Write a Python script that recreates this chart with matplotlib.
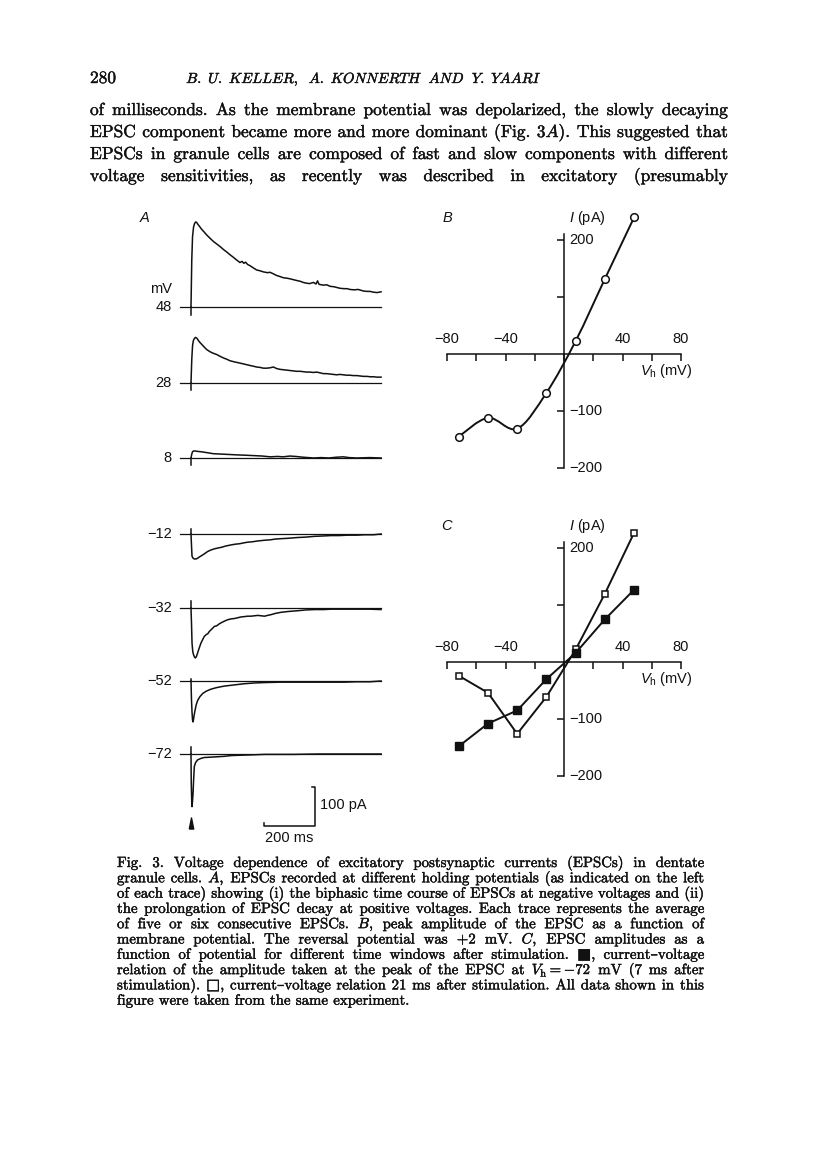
import numpy as np
import matplotlib
matplotlib.use('Agg')
import matplotlib.pyplot as plt
import matplotlib.patheffects as pe
from matplotlib.path import Path
from matplotlib.patches import PathPatch

W, H = 816, 1166

# ---- data ----
holding_mv = [48, 28, 8, -12, -32, -52, -72]
holding_labels = ['48', '28', '8', '\u221212', '\u221232', '\u221252', '\u221272']

# stimulus artefact (pA relative to baseline) for each trace
stim_artefact = [-21, -17, -18, 13, 17, 4, 17]

# EPSC traces, time (ms) and current (pA)
t_48 = [0, 3, 6, 10, 14, 18, 22, 27, 33, 42, 52, 61, 75, 88, 100, 114, 128, 140, 153, 165,
        178, 192, 200, 207, 214, 222, 231, 245, 257, 270, 284, 300, 310, 323, 335, 349, 362,
        375, 390, 402, 414, 428, 440, 453, 465, 480, 490, 496, 502, 520, 532, 545, 560, 572,
        584, 600, 612, 623, 640, 655, 676, 690, 702, 715, 730, 745]
i_48 = [0, 120, 180, 205, 214, 218, 217, 212, 207, 199, 192, 185, 176, 168, 162, 155, 147, 141,
        134, 128, 121, 114, 117, 112, 115, 109, 106, 100, 95, 93, 90, 88, 89, 85, 81, 78, 75,
        74, 72, 70, 68, 66, 63, 61, 60, 63, 59, 67, 58, 56, 57, 53, 52, 50, 48, 47, 47, 45,
        44, 45, 41, 40, 40, 38, 37, 39]

t_28 = [0, 3, 6, 9, 13, 18, 24, 30, 35, 45, 55, 61, 75, 88, 101, 115, 128, 140, 153, 165, 178,
        192, 205, 218, 231, 245, 257, 270, 284, 297, 310, 323, 336, 349, 362, 375, 388, 401,
        414, 428, 440, 453, 467, 480, 493, 506, 519, 532, 545, 558, 571, 584, 597, 610, 623,
        636, 650, 663, 676, 690, 702, 715, 730, 745]
i_28 = [0, 60, 95, 108, 114, 117, 114, 108, 104, 97, 90, 86, 80, 76, 73, 68, 64, 61, 57, 55, 53,
        51, 49, 47, 45, 43, 41, 40, 38, 38, 39, 41, 37, 35, 34, 33, 32, 31, 30, 30, 29, 28, 28,
        27, 28, 26, 24, 24, 23, 22, 21, 22, 21, 20, 20, 19, 19, 18, 17, 17, 16, 16, 15, 15]

t_8 = [0, 3, 6, 10, 16, 25, 40, 60, 88, 120, 150, 180, 218, 250, 280, 310, 340, 360, 388, 410,
       440, 480, 510, 540, 570, 597, 620, 650, 700, 745]
i_8 = [0, 10, 16, 18, 18, 17, 16, 14, 11, 10, 9, 8, 7, 6, 5, 3, 4, 3, 5, 4, 2, 0, 1, 0, 2, 3,
       1, 0, 1, 0]

t_m12 = [0, 2, 4, 8, 13, 20, 26, 35, 45, 52, 65, 78, 92, 105, 120, 135, 157, 175, 190, 205, 222,
         240, 260, 288, 310, 330, 353, 380, 418, 450, 484, 520, 549, 580, 614, 650, 680, 715, 745]
i_m12 = [0, -30, -57, -62, -64, -64, -62, -58, -54, -51, -45, -41, -38, -36, -34, -31, -28, -26,
         -25, -23, -21, -20, -18, -16, -15, -13, -12, -11, -9, -8, -6, -5, -4, -4, -3, -3, -2,
         -2, 0]

t_m32 = [0, 2, 4, 7, 10, 14, 17, 21, 26, 32, 39, 45, 52, 60, 66, 72, 80, 92, 100, 110, 118, 130,
         144, 157, 170, 183, 196, 210, 222, 235, 248, 262, 275, 288, 300, 314, 330, 353, 380, 418,
         450, 484, 520, 549, 600, 650, 700, 745]
i_m32 = [0, -40, -90, -112, -120, -126, -128, -125, -115, -103, -90, -82, -73, -68, -66, -60, -55,
         -47, -46, -41, -38, -34, -30, -28, -27, -25, -23, -22, -21, -21, -20, -19, -20, -21, -19,
         -17, -14, -11, -9, -7, -5, -4, -4, -3, -3, -3, -3, -4]

t_m52 = [0, 2, 4, 6, 8, 10, 13, 16, 20, 26, 35, 46, 60, 78, 100, 131, 170, 209, 250, 288, 350,
         418, 480, 549, 600, 650, 700, 745]
i_m52 = [0, -50, -80, -100, -105, -98, -85, -75, -62, -50, -40, -32, -26, -21, -17, -13, -10, -7,
         -5, -4, -3, -3, -3, -3, -3, -2, -2, 0]

t_m72 = [0, 1, 3, 4, 6, 8, 10, 13, 18, 26, 40, 52, 80, 105, 130, 157, 200, 250, 288, 400, 500, 745]
i_m72 = [0, -75, -125, -135, -120, -101, -70, -32, -22, -15, -11, -9, -8, -7, -6, -4, -3, -2, -1,
         -1, 0, 0]

trace_t = [t_48, t_28, t_8, t_m12, t_m32, t_m52, t_m72]
trace_i = [i_48, i_28, i_8, i_m12, i_m32, i_m52, i_m72]

# I-V relations
vh = [-72, -52, -32, -12, 8, 28, 48]
b_peak = [-145, -112, -131, -68, 23, 132, 240]
c_7ms = [-148, -108, -85, -30, 16, 75, 127]
c_21ms = [-24, -54, -126, -61, 22, 120, 227]

x_ticks = [-80, -60, -40, -20, 0, 20, 40, 60, 80]
x_ticklabels = {-80: '\u221280', -40: '\u221240', 40: '40', 80: '80'}
y_ticks = [-200, -100, 100, 200]
y_ticklabels = {200: '200', -100: '\u2212100', -200: '\u2212200'}

body_lines = [
    "of milliseconds. As the membrane potential was depolarized, the slowly decaying",
    "EPSC component became more and more dominant (Fig. 3$A$). This suggested that",
    "EPSCs in granule cells are composed of fast and slow components with different",
    "voltage sensitivities, as recently was described in excitatory (presumably",
]
caption_lines = [
    "Fig. 3. Voltage dependence of excitatory postsynaptic currents (EPSCs) in dentate",
    "granule cells. $A$, EPSCs recorded at different holding potentials (as indicated on the left",
    "of each trace) showing (i) the biphasic time course of EPSCs at negative voltages and (ii)",
    "the prolongation of EPSC decay at positive voltages. Each trace represents the average",
    "of five or six consecutive EPSCs. $B$, peak amplitude of the EPSC as a function of",
    "membrane potential. The reversal potential was +2 mV. $C$, EPSC amplitudes as a",
    "function of potential for different time windows after stimulation. \u25a0, current\u2013voltage",
    "relation of the amplitude taken at the peak of the EPSC at $V_{\\mathrm{h}}=-72$ mV (7 ms after",
    "stimulation). \u25a1, current\u2013voltage relation 21 ms after stimulation. All data shown in this",
    "figure were taken from the same experiment.",
]

plt.rcParams['mathtext.fontset'] = 'custom'
plt.rcParams['mathtext.it'] = 'Liberation Sans:italic'
plt.rcParams['mathtext.rm'] = 'Liberation Sans'
plt.rcParams['mathtext.default'] = 'it'

SERIF = ['cmr10', 'DejaVu Serif', 'DejaVu Sans']
SANS = ['Liberation Sans', 'DejaVu Sans']
INK = '#111111'
BOLDEN = [pe.withStroke(linewidth=0.3, foreground=INK)]
LAB = 10.5

fig = plt.figure(figsize=(W / 100, H / 100), dpi=100)
renderer = fig.canvas.get_renderer()


def fx(x):
    return x / W


def fy(y):
    return 1 - y / H


def word_widths(words, size):
    arts = [fig.text(0, 0, w, fontsize=size, family=SERIF, math_fontfamily='cm',
                     va='baseline', ha='left', color=INK, path_effects=BOLDEN) for w in words]
    return arts, [a.get_window_extent(renderer).width for a in arts]


def fit_size(lines, x0, x1, size0, space=0.36):
    # largest size at which every justified line still has a normal word space
    k = 10.0
    for line in lines:
        words = line.split(' ')
        arts, widths = word_widths(words, size0)
        for a in arts:
            a.remove()
        em = size0 * 100 / 72
        k = min(k, (x1 - x0) / (sum(widths) + space * em * (len(words) - 1)))
    return size0 * k


def put_line(text, x0, x1, y, size, justify=True):
    words = text.split(' ')
    arts, widths = word_widths(words, size)
    if justify and len(words) > 1:
        gap = (x1 - x0 - sum(widths)) / (len(words) - 1)
    else:
        gap = size * 100 / 72 * 0.36
    x = x0
    for a, w in zip(arts, widths):
        a.set_position((fx(x), fy(y)))
        x += w + gap


# ---- page header and text ----
body_size = fit_size(body_lines, 90, 728, 10.5)
cap_size = fit_size(caption_lines[:-1], 117, 704, 9.5)

fig.text(fx(90), fy(83), '280', fontsize=body_size, family=SERIF, va='baseline', ha='left',
         color=INK, path_effects=BOLDEN)
fig.text(fx(364), fy(83),
         r'$\mathit{B.\ U.\ KELLER,\ \ A.\ KONNERTH\ \ AND\ \ Y.\ YAARI}$',
         fontsize=10.5, math_fontfamily='cm', va='baseline', ha='center', color=INK,
         path_effects=BOLDEN)
for k, line in enumerate(body_lines):
    put_line(line, 90, 728, 115 + 22 * k, body_size)
for k, line in enumerate(caption_lines):
    put_line(line, 117, 704, 867 + 15.3 * k, cap_size, justify=(k < len(caption_lines) - 1))

# ---- panel A : traces ----
ms_px = 3.92   # ms per pixel
pa_px = 2.564  # pA per pixel
axA = fig.add_axes([fx(130), fy(850), fx(280), 650 / H])
axA.set_xlim((130 - 191) * ms_px, (410 - 191) * ms_px)
axA.set_ylim(-650 * pa_px, 0)
axA.axis('off')

baselines_px = [307, 383, 458, 534, 608, 681, 754]
for k in range(len(holding_mv)):
    off = -(baselines_px[k] - 200) * pa_px
    axA.plot([(180 - 191) * ms_px, 745], [off, off], color=INK, lw=0.9)
    axA.plot(trace_t[k], np.array(trace_i[k]) + off, color=INK, lw=1.1)
    axA.plot([0, 0], [off, off + stim_artefact[k]], color=INK, lw=1.1)
    axA.text((172 - 191) * ms_px, off, holding_labels[k], ha='right', va='center',
             fontsize=LAB, family=SANS, color=INK)
axA.text((161 - 191) * ms_px, -(289 - 200) * pa_px, 'mV', ha='center', va='center',
         fontsize=LAB, family=SANS, color=INK)

# stimulus arrowhead
tri = Path([(-0.4, -1), (0.4, -1), (0, 1), (-0.4, -1)])
axA.plot([0], [-(823 - 200) * pa_px], marker=tri, ms=8, color=INK, mec=INK)

# scale bars (100 pA, 200 ms)
sx = (315 - 191) * ms_px
sy = -(826 - 200) * pa_px
axA.plot([sx - 10, sx, sx, sx - 200, sx - 200], [sy + 100, sy + 100, sy, sy, sy + 7],
         color=INK, lw=1.1)
axA.text(sx + 18, sy + 55, '100 pA', ha='left', va='center', fontsize=LAB, family=SANS, color=INK)
axA.text(sx - 100, sy - 30, '200 ms', ha='center', va='center', fontsize=LAB, family=SANS,
         color=INK)

fig.text(fx(145), fy(218), 'A', fontsize=LAB, family=SANS, style='italic', ha='center',
         va='center', color=INK)


# ---- panels B and C : I-V ----
def smooth_path(xs, ys):
    pts = np.column_stack([xs, ys]).astype(float)
    verts = [pts[0]]
    codes = [Path.MOVETO]
    n = len(pts)
    for i in range(n - 1):
        p0 = pts[max(i - 1, 0)]
        p1 = pts[i]
        p2 = pts[i + 1]
        p3 = pts[min(i + 2, n - 1)]
        verts += [p1 + (p2 - p0) / 6, p2 - (p3 - p1) / 6, p2]
        codes += [Path.CURVE4] * 3
    return Path(verts, codes)


mv_px = 1.4625
pa_px_iv = 0.57


def iv_axes(origin_y, letter):
    xl, yl = (-85, 85), (-215, 250)
    left = 564 + xl[0] * mv_px
    top = origin_y - yl[1] * pa_px_iv
    ax = fig.add_axes([fx(left), fy(top + (yl[1] - yl[0]) * pa_px_iv),
                       (xl[1] - xl[0]) * mv_px / W, (yl[1] - yl[0]) * pa_px_iv / H])
    ax.set_xlim(*xl)
    ax.set_ylim(*yl)
    ax.patch.set_visible(False)
    for s in ['top', 'right']:
        ax.spines[s].set_visible(False)
    ax.spines['left'].set_position('zero')
    ax.spines['bottom'].set_position('zero')
    ax.spines['left'].set_bounds(-200, 210)
    ax.spines['bottom'].set_bounds(-80, 80)
    for s in ['left', 'bottom']:
        ax.spines[s].set_linewidth(1.1)
        ax.spines[s].set_color(INK)
    ax.set_xticks(x_ticks)
    ax.set_yticks(y_ticks)
    ax.tick_params(axis='both', direction='out', length=5, width=1.1, color=INK,
                   labelbottom=False, labelleft=False)
    for v, lab in x_ticklabels.items():
        ax.annotate(lab, (v, 0), xytext=(0, 6), textcoords='offset points', ha='center',
                    va='bottom', fontsize=LAB, family=SANS, color=INK)
    for v, lab in y_ticklabels.items():
        ax.annotate(lab, (0, v), xytext=(4, 0), textcoords='offset points', ha='left',
                    va='center', fontsize=LAB, family=SANS, color=INK)
    ax.text(16, 238, '$I$ (pA)', ha='center', va='center', fontsize=LAB, family=SANS,
            math_fontfamily='custom', color=INK)
    ax.text(70, -30, '$V_{\\mathrm{h}}$ (mV)', ha='center', va='center', fontsize=LAB,
            family=SANS, math_fontfamily='custom', color=INK)
    ax.text(-80, 238, letter, ha='center', va='center', fontsize=LAB, family=SANS,
            style='italic', color=INK)
    return ax


axB = iv_axes(354, 'B')
axB.add_patch(PathPatch(smooth_path(vh, b_peak), fill=False, lw=1.4, ec=INK))
axB.plot(vh, b_peak, 'o', ms=5.5, mfc='white', mec=INK, mew=1.1, clip_on=False, zorder=3)

axC = iv_axes(662, 'C')
axC.plot(vh, c_21ms, '-s', color=INK, lw=1.4, ms=5, mfc='white', mec=INK, mew=1.1,
         clip_on=False, zorder=3)
axC.plot(vh, c_7ms, '-s', color=INK, lw=1.4, ms=5.5, mfc=INK, mec=INK, clip_on=False, zorder=3)

fig.savefig('out.png', dpi=100, facecolor='white')
